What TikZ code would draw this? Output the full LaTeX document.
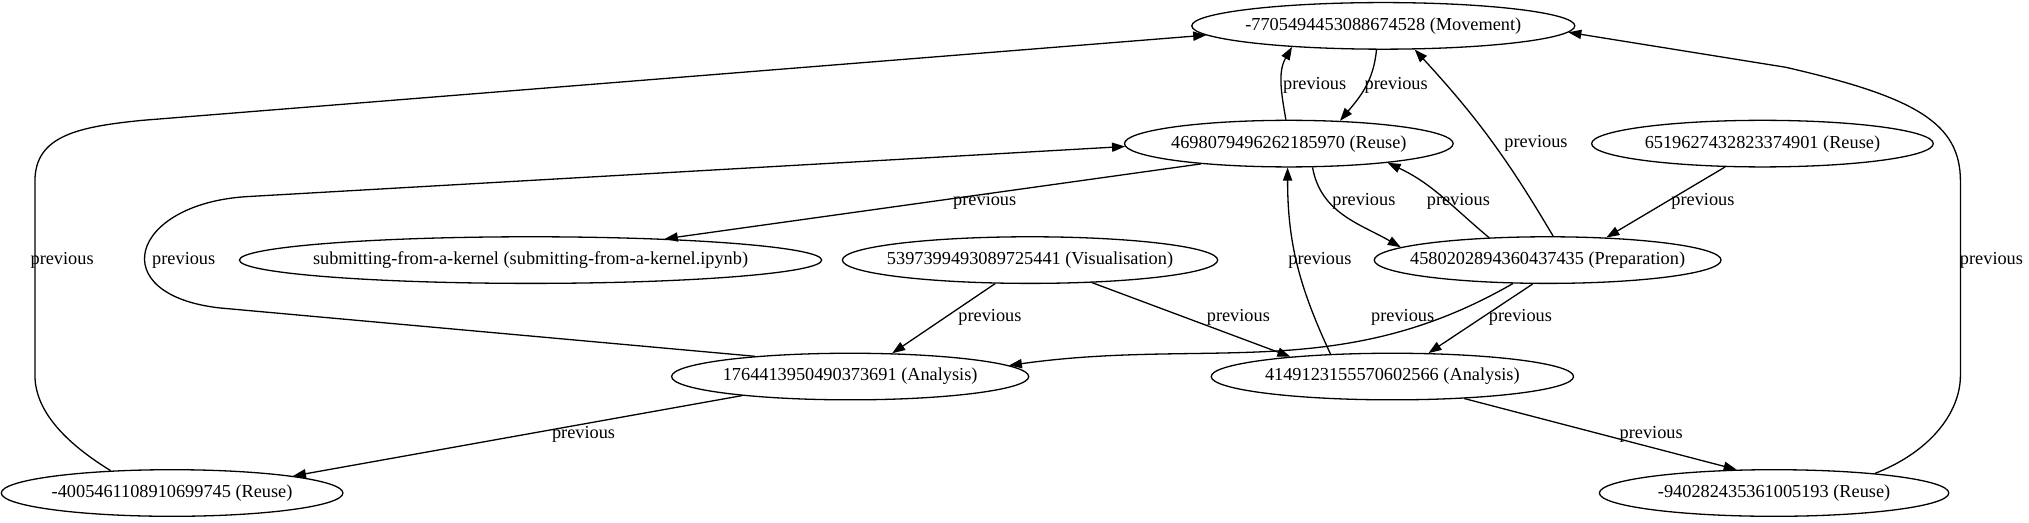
\documentclass[tikz,border=0pt]{standalone}
\usepackage{fontspec}
\setmainfont{Liberation Serif}
\usetikzlibrary{shapes.geometric,arrows.meta}
\newcommand{\ntx}[1]{\makebox[0pt]{#1}}
\begin{document}
\begin{tikzpicture}[x=0.647pt,y=0.647pt,
  nd/.style={draw,ellipse,inner sep=0pt,minimum height=23.3pt,line width=0.65pt,
    font=\fontsize{9.15}{11}\selectfont},
  wd/.style={minimum width=#1*0.647pt},
  ed/.style={-{Triangle[length=6.5pt,width=4.6pt]},line width=0.65pt},
  lb/.style={inner sep=0pt,font=\fontsize{9.15}{11}\selectfont}]
\useasboundingbox (0,0) rectangle (1568,404);
% nodes
\node[nd,wd=296] (mv) at (1069,384) {\ntx{-7705494453088674528 (Movement)}};
\node[nd,wd=254] (r4698) at (996,293) {\ntx{4698079496262185970 (Reuse)}};
\node[nd,wd=264] (r6519) at (1362,293) {\ntx{6519627432823374901 (Reuse)}};
\node[nd,wd=450] (sub) at (410,203) {\ntx{submitting-from-a-kernel (submitting-from-a-kernel.ipynb)}};
\node[nd,wd=290] (vis) at (796,203) {\ntx{5397399493089725441 (Visualisation)}};
\node[nd,wd=268] (prep) at (1196,203) {\ntx{4580202894360437435 (Preparation)}};
\node[nd,wd=276] (a1764) at (657,113) {\ntx{1764413950490373691 (Analysis)}};
\node[nd,wd=280] (a4149) at (1076,113) {\ntx{4149123155570602566 (Analysis)}};
\node[nd,wd=264] (r4005) at (133,23) {\ntx{-4005461108910699745 (Reuse)}};
\node[nd,wd=270] (r9402) at (1371,23) {\ntx{-940282435361005193 (Reuse)}};
% edges
\draw[ed] (r4698.97) to[out=100,in=240] (mv.193);
\draw[ed] (mv.254) to[out=-95,in=50] (r4698.24);
\draw[ed] (prep.77) to[bend right=6] (mv.-37);
\draw[ed] (r6519.212) -- (prep.21);
\draw[ed] (r4698.315) to[out=-80,in=150] (prep.175);
\draw[ed] (prep.159) to[out=140,in=-25] (r4698.-11);
\draw[ed] (r4698.-167) -- (sub.9);
\draw[ed] (r4005.160) .. controls (55,59) and (27,84) .. (27,114) -- (27,264)
   .. controls (27,299) and (60,306) .. (110,311) -- (mv.183);
\draw[ed] (a1764.168) -- (170,166) .. controls (80,176) and (100,246) .. (190,252) -- (r4698.181);
\draw[ed] (a4149.160) to[out=115,in=-90] (r4698.267);
\draw[ed] (r9402.11) .. controls (1490,54) and (1515,84) .. (1515,114) -- (1515,264)
   .. controls (1515,309) and (1480,329) .. (1380,352) -- (mv.-2);
\draw[ed] (vis.214) -- (a1764.29);
\draw[ed] (vis.-20) -- (a4149.169);
\draw[ed] (prep.214) to[out=-150,in=8] (a1764.4);
\draw[ed] (prep.238) -- (a4149.33);
\draw[ed] (a1764.190) -- (r4005.8);
\draw[ed] (a4149.-17) -- (r9402.148);
% labels
\node[lb] (l1) at (1016,338) {previous};
\node[lb] (l2) at (1079,338) {previous};
\node[lb] (l3) at (1187,293) {previous};
\node[lb] (l4) at (1316,248) {previous};
\node[lb] (l5) at (1054,248) {previous};
\node[lb] (l6) at (1127,248) {previous};
\node[lb] (l7) at (761,248) {previous};
\node[lb] (l8) at (48,203) {previous};
\node[lb] (l9) at (142,203) {previous};
\node[lb] (l10) at (1020,203) {previous};
\node[lb] (l11) at (1539,203) {previous};
\node[lb] (l12) at (765,159) {previous};
\node[lb] (l13) at (957,159) {previous};
\node[lb] (l14) at (1084,159) {previous};
\node[lb] (l15) at (1175,159) {previous};
\node[lb] (l16) at (451,68) {previous};
\node[lb] (l17) at (1276,68) {previous};
\end{tikzpicture}
\end{document}
